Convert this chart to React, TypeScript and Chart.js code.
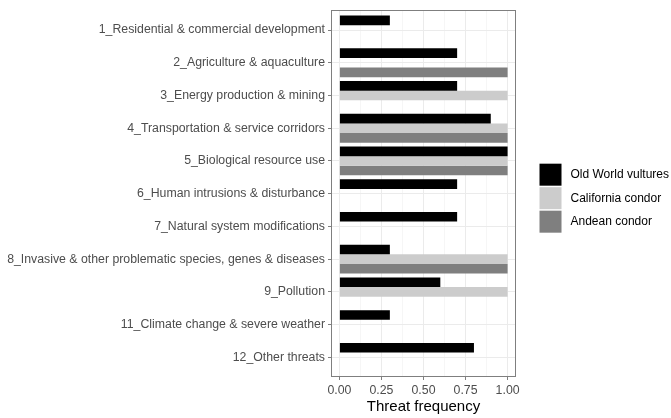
import { useEffect, useRef } from "react";
import { Chart, registerables } from "chart.js";

Chart.register(...registerables);

const categories = [
  "1_Residential & commercial development",
  "2_Agriculture & aquaculture",
  "3_Energy production & mining",
  "4_Transportation & service corridors",
  "5_Biological resource use",
  "6_Human intrusions & disturbance",
  "7_Natural system modifications",
  "8_Invasive & other problematic species, genes & diseases",
  "9_Pollution",
  "11_Climate change & severe weather",
  "12_Other threats",
];

const seriesNames = ["Old World vultures", "California condor", "Andean condor"];
const seriesColors = ["#000000", "#cccccc", "#7f7f7f"];

const oldWorld = [0.3, 0.7, 0.7, 0.9, 1.0, 0.7, 0.7, 0.3, 0.6, 0.3, 0.8];
const california = [null, null, 1.0, 1.0, 1.0, null, null, 1.0, 1.0, null, null];
const andean = [null, 1.0, null, 1.0, 1.0, null, null, 1.0, null, null, null];

const xTicks = [0, 0.125, 0.25, 0.375, 0.5, 0.625, 0.75, 0.875, 1.0];

const FONT = "'Liberation Sans', Arial, Helvetica, sans-serif";

export default function App() {
  const canvasRef = useRef<HTMLCanvasElement | null>(null);

  useEffect(() => {
    document.body.style.margin = "0";
    if (!canvasRef.current) return;

    const toPoints = (arr: (number | null)[]) =>
      arr.map((v, i) => ({ x: v, y: i + 1 }));

    const panelPlugin = {
      id: "panelBorder",
      afterDraw(chart: any) {
        const { ctx, chartArea } = chart;
        ctx.save();
        ctx.strokeStyle = "#7f7f7f";
        ctx.lineWidth = 1;
        ctx.strokeRect(
          Math.round(chartArea.left) + 0.5,
          Math.round(chartArea.top) + 0.5,
          Math.round(chartArea.right - chartArea.left) - 1,
          Math.round(chartArea.bottom - chartArea.top) - 1
        );
        ctx.restore();
      },
    };

    const legendPlugin = {
      id: "sideLegend",
      afterDraw(chart: any) {
        const { ctx, chartArea } = chart;
        const x0 = chartArea.right + 23.5;
        const y0 = chartArea.top + 153.3;
        const step = 23.5;
        const box = 22;
        ctx.save();
        ctx.font = `12px ${FONT}`;
        ctx.textBaseline = "middle";
        ctx.textAlign = "left";
        chart.data.datasets.forEach((ds: any, i: number) => {
          const y = y0 + i * step;
          ctx.fillStyle = ds.backgroundColor;
          ctx.fillRect(x0, y, box, box);
          ctx.fillStyle = "#000000";
          ctx.fillText(ds.label, x0 + box + 9, y + box / 2 + 0.5);
        });
        ctx.restore();
      },
    };

    const chart = new Chart(canvasRef.current, {
      type: "bar",
      data: {
        datasets: [oldWorld, california, andean].map((arr, i) => ({
          label: seriesNames[i],
          data: toPoints(arr) as any,
          backgroundColor: seriesColors[i],
          borderWidth: 0,
          categoryPercentage: 0.88,
          barPercentage: 1.0,
        })),
      },
      options: {
        indexAxis: "y",
        animation: false,
        responsive: true,
        maintainAspectRatio: false,
        layout: { padding: { left: 0, top: 10, right: 155, bottom: 0 } },
        plugins: {
          legend: { display: false },
          tooltip: { enabled: false },
        },
        scales: {
          x: {
            type: "linear",
            min: -0.05,
            max: 1.05,
            offset: false,
            afterBuildTicks: (scale: any) => {
              scale.ticks = xTicks.map((v) => ({ value: v }));
            },
            afterFit: (scale: any) => {
              scale.height = 41;
            },
            border: { display: false },
            grid: {
              offset: false,
              color: (c: any) => (c.tick && c.tick.value % 0.25 === 0 ? "#ebebeb" : "#f2f2f2"),
              lineWidth: (c: any) => (c.tick && c.tick.value % 0.25 === 0 ? 1 : 0.7),
              tickColor: (c: any) =>
                c.tick && c.tick.value % 0.25 === 0 ? "#7f7f7f" : "rgba(0,0,0,0)",
              tickLength: 3,
              tickWidth: 1,
            },
            ticks: {
              autoSkip: false,
              maxRotation: 0,
              padding: 3,
              color: "#4d4d4d",
              font: { family: FONT, size: 12.3 },
              callback: (v: any) => (Number(v) % 0.25 === 0 ? Number(v).toFixed(2) : ""),
            },
            title: {
              display: true,
              text: "Threat frequency",
              color: "#000000",
              font: { family: FONT, size: 15 },
              padding: { top: 0, bottom: 2 },
            },
          },
          y: {
            type: "linear",
            reverse: true,
            min: 0.4,
            max: 11.6,
            offset: false,
            afterBuildTicks: (scale: any) => {
              scale.ticks = categories.map((_, i) => ({ value: i + 1 }));
            },
            afterFit: (scale: any) => {
              scale.width = 331;
            },
            border: { display: false },
            grid: {
              offset: false,
              color: "#ebebeb",
              lineWidth: 1,
              tickColor: "#7f7f7f",
              tickLength: 3,
              tickWidth: 1,
            },
            ticks: {
              autoSkip: false,
              padding: 3,
              color: "#4d4d4d",
              font: { family: FONT, size: 12.3 },
              callback: (v: any) => categories[Math.round(Number(v)) - 1] ?? "",
            },
          },
        },
      },
      plugins: [panelPlugin, legendPlugin],
    });

    return () => chart.destroy();
  }, []);

  return (
    <div style={{ position: "relative", width: 671, height: 418 }}>
      <canvas ref={canvasRef} />
    </div>
  );
}
